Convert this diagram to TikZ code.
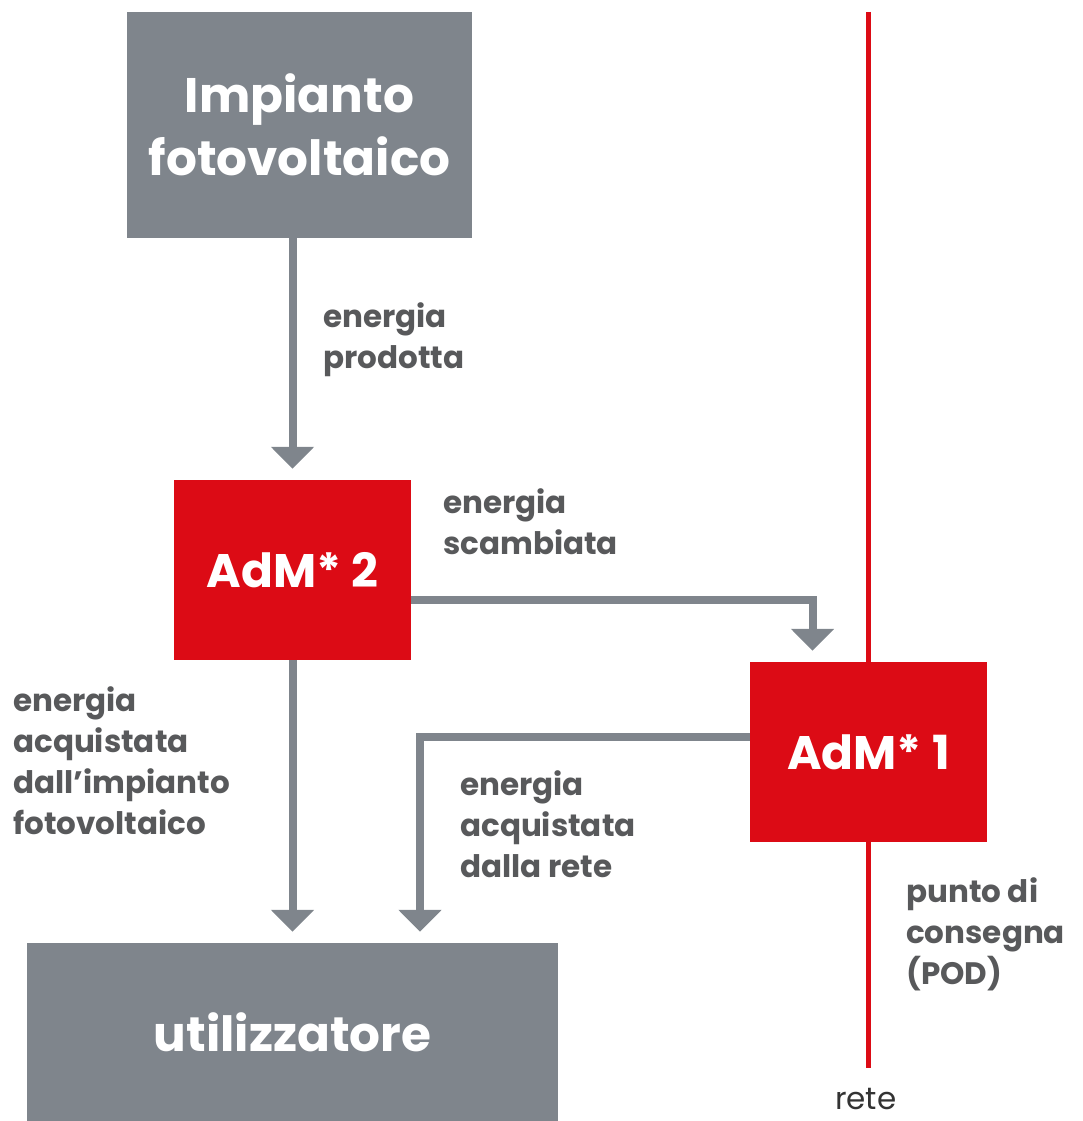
\documentclass[tikz,border=0pt]{standalone}
\usepackage{fontspec}
\setmainfont{Poppins}
\usetikzlibrary{arrows.meta}
\definecolor{boxgray}{HTML}{7F858C}
\definecolor{admred}{HTML}{DC0B15}
\definecolor{labgray}{HTML}{58595B}
\definecolor{retetext}{HTML}{333333}
\tikzset{
  graybox/.style={fill=boxgray, draw=none, inner sep=0pt, text=white, align=center,
    font=\fontsize{48.5}{63}\selectfont\bfseries},
  redbox/.style={fill=admred, draw=none, inner sep=0pt, text=white, align=center,
    minimum width=237pt, minimum height=180pt, font=\fontsize{47}{56}\selectfont\bfseries},
  conn/.style={draw=boxgray, line width=8pt, -{Triangle[width=42pt,length=22pt]}, shorten >=11pt},
  lab/.style={text=labgray, inner sep=0pt, anchor=north west, align=left,
    font=\fontsize{31}{41}\selectfont\bfseries},
  redline/.style={draw=admred, line width=5pt}
}
\begin{document}
\begin{tikzpicture}[x=1pt,y=-1pt]
\useasboundingbox (0,0) rectangle (1082,1121);
\coordinate (rtop) at (868,12);
\coordinate (rbot) at (868,1068);
\draw[redline] (rtop) -- (rbot);
\node[graybox, minimum width=345pt, minimum height=226pt] (pv) at (299.5,125) {Impianto\\fotovoltaico};
\node[redbox] (adm2) at (292.5,570) {AdM* 2};
\node[redbox] (adm1) at (868.5,752) {AdM* 1};
\node[graybox, minimum width=531pt, minimum height=178pt] (util) at (292.5,1032) {utilizzatore};
\draw[conn] (adm2.north |- pv.south) -- (adm2.north);
\draw[conn] ([yshift=-30pt]adm2.east) -| ([xshift=-56pt]adm1.north);
\draw[conn] (adm2.south) -- (adm2.south |- util.north);
\draw[conn] ([yshift=15pt]adm1.west) -| ([xshift=127.5pt]util.north);
\node[lab] (l1) at (323,302) {energia\\prodotta};
\node[lab] (l2) at (443,488) {energia\\scambiata};
\node[lab] (l3) at (13,686) {energia\\acquistata\\dall’impianto\\fotovoltaico};
\node[lab] (l4) at (460,770) {energia\\acquistata\\dalla rete};
\node[lab] (l5) at (906,877) {punto di\\consegna\\(POD)};
\node[text=retetext, inner sep=0pt, anchor=north west, font=\fontsize{31}{36}\selectfont] (rete) at (835,1088) {rete};
\end{tikzpicture}
\end{document}
